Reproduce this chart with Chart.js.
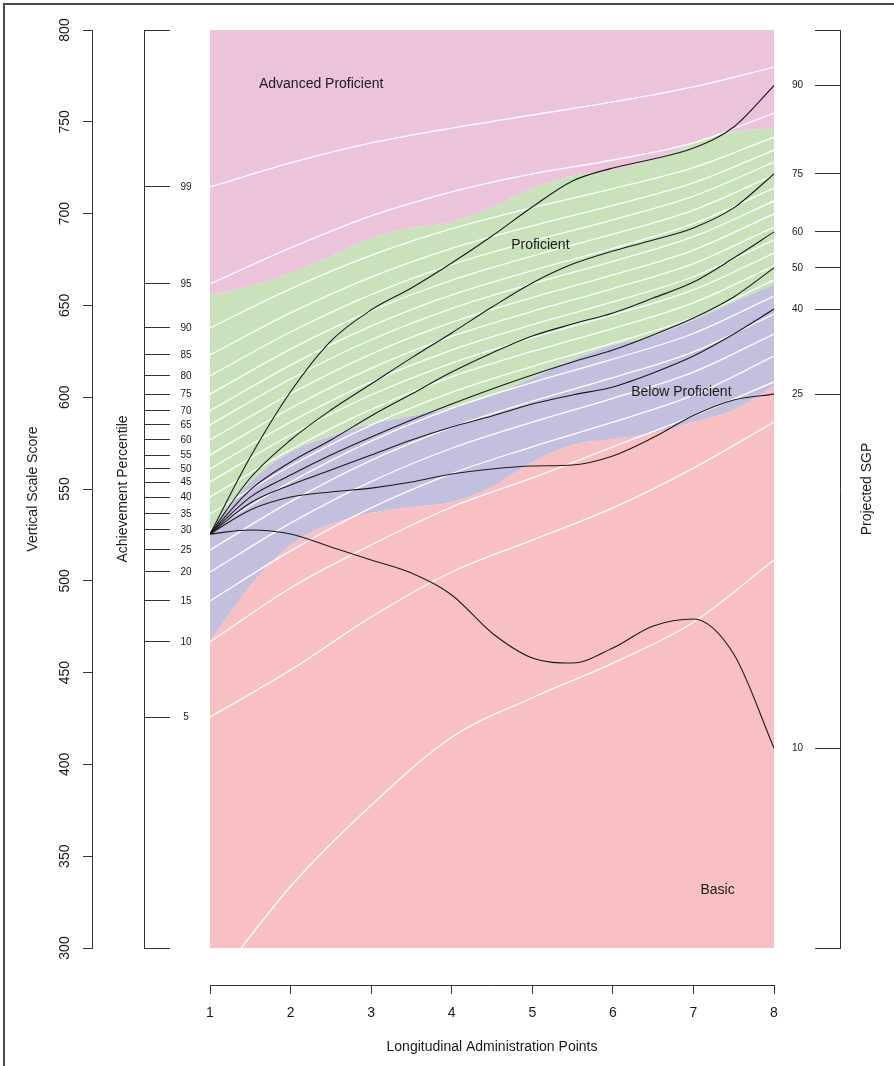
<!DOCTYPE html>
<html>
<head>
<meta charset="utf-8">
<script src="https://cdn.jsdelivr.net/npm/chart.js@4.4.1/dist/chart.umd.min.js"></script>
<style>
  html, body { margin: 0; padding: 0; background: #fff; overflow: hidden; }
  #wrap { position: relative; width: 894px; height: 1066px; overflow: hidden; }
  #frame { position: absolute; left: 3px; top: 3px; width: 1000px; height: 1200px;
           border: 2px solid #4a4a4a; box-sizing: border-box; }
  canvas { position: absolute; left: 0; top: 0; }
</style>
</head>
<body>
<div id="wrap">
  <div id="frame"></div>
  <canvas id="chart" width="894" height="1066"></canvas>
</div>
<script>
// Administration points used by the cut-score bands and the projected growth paths
const steps = [1, 1.5, 2, 2.5, 3, 3.5, 4, 4.5, 5, 5.5, 6, 6.5, 7, 7.5, 8];
// Administration points used by the achievement percentile curves
const years = [1, 2, 3, 4, 5, 6, 7, 8];

// Performance level cut scores (lower edge of each level)
const cutAdvanced   = [655.7, 660.6, 667.6, 676.9, 686.7, 692.2, 695.4, 703.6, 713.9, 720.5, 723.7, 729.7, 737.9, 744.4, 746.6];
const cutProficient = [527.7, 553.8, 570.2, 578.9, 585.4, 589.8, 594.1, 601.2, 610.5, 620.3, 628.4, 633.3, 642.0, 651.9, 661.7];
const cutBelow      = [467.2, 497.2, 519.5, 530.9, 536.9, 540.2, 542.9, 551.1, 564.7, 574.0, 577.2, 580.5, 586.5, 593.0, 606.1];

// Projected scale-score trajectories for each student growth percentile
const sgp90 = [525.5, 567.4, 603.0, 630.6, 647.5, 659.5, 673.1, 687.8, 703.6, 717.8, 724.8, 729.7, 735.7, 747.2, 769.7];
const sgp75 = [525.5, 556.0, 576.7, 593.0, 607.2, 621.4, 635.0, 649.1, 662.2, 672.5, 679.6, 685.6, 692.2, 703.1, 721.6];
const sgp60 = [525.5, 549.5, 564.7, 576.7, 589.8, 601.7, 613.7, 624.1, 633.3, 639.9, 645.9, 654.0, 662.7, 675.8, 690.0];
const sgp50 = [525.5, 545.6, 557.6, 568.5, 578.3, 587.6, 596.3, 604.5, 612.1, 619.2, 625.7, 633.9, 643.1, 654.6, 670.4];
const sgp40 = [525.5, 542.4, 552.2, 560.3, 568.5, 576.7, 583.8, 589.8, 596.3, 601.2, 605.6, 613.2, 622.4, 634.4, 648.0];
const sgp25 = [525.5, 538.6, 545.6, 548.4, 550.5, 553.8, 558.2, 560.9, 562.5, 563.1, 568.0, 578.0, 590.0, 598.5, 601.7];
const sgp10 = [525.5, 527.7, 525.5, 518.4, 511.3, 504.2, 492.3, 471.6, 458.0, 455.2, 463.4, 475.4, 479.2, 460.1, 408.9];
const sgpLevels = [10, 25, 40, 50, 60, 75, 90];

// Achievement percentile curves (scale score reached by each percentile)
const pct99 = [714.5, 727.6, 738.5, 746.6, 753.7, 760.8, 769.0, 779.8];
const pct95 = [661.7, 681.3, 698.7, 711.8, 721.6, 729.2, 738.5, 754.8];
const pct90 = [637.7, 659.0, 677.2, 691.8, 703.2, 713.6, 725.1, 741.7];
const pct85 = [623.0, 645.9, 665.4, 681.0, 693.3, 704.5, 716.7, 734.6];
const pct80 = [611.6, 635.5, 655.9, 672.2, 685.0, 696.6, 709.5, 728.1];
const pct75 = [601.7, 626.2, 647.0, 663.7, 676.9, 688.8, 701.9, 721.0];
const pct70 = [592.6, 617.5, 638.7, 655.7, 669.0, 681.1, 694.5, 713.9];
const pct65 = [584.9, 609.9, 631.3, 648.3, 661.8, 674.0, 687.4, 706.9];
const pct60 = [576.7, 601.9, 623.5, 640.7, 654.3, 666.6, 680.1, 699.8];
const pct55 = [568.5, 594.0, 615.7, 633.1, 646.7, 659.2, 672.8, 692.7];
const pct50 = [560.9, 586.5, 608.3, 625.7, 639.5, 651.9, 665.6, 685.6];
const pct45 = [553.8, 579.4, 601.2, 618.6, 632.4, 644.8, 658.5, 678.5];
const pct40 = [545.6, 571.4, 593.4, 611.1, 624.9, 637.5, 651.4, 671.5];
const pct35 = [536.4, 562.5, 584.8, 602.6, 616.7, 629.4, 643.4, 663.8];
const pct30 = [527.7, 553.8, 576.1, 593.9, 608.0, 620.7, 634.7, 655.1];
const pct25 = [516.8, 543.1, 565.6, 583.6, 597.8, 610.6, 624.7, 645.3];
const pct20 = [504.8, 531.4, 554.0, 572.2, 586.4, 599.4, 613.7, 634.4];
const pct15 = [489.0, 516.3, 539.7, 558.4, 573.0, 586.4, 601.1, 622.4];
const pct10 = [466.7, 496.1, 519.5, 540.2, 556.0, 572.9, 589.8, 608.3];
const pct5  = [425.8, 451.4, 480.3, 504.8, 522.2, 539.7, 561.4, 586.5];
const pct1  = [278.0, 333.5, 377.7, 414.8, 436.3, 455.2, 477.4, 511.3];
const pctLevels = [1, 5, 10, 15, 20, 25, 30, 35, 40, 45, 50, 55, 60, 65, 70, 75, 80, 85, 90, 95, 99];

// Scale limits
const scoreMin = 300, scoreMax = 800;

// Region names placed inside the bands (x = administration point, y = scale score)
const regionLabels = [
  { text: 'Advanced Proficient', x: 2.38, y: 770.6 },
  { text: 'Proficient',          x: 5.10, y: 682.9 },
  { text: 'Below Proficient',    x: 6.85, y: 602.8 },
  { text: 'Basic',               x: 7.30, y: 331.6 }
];

const FONT = '"Liberation Sans", Arial, Helvetica, sans-serif';
const INK = '#1a1a1a';
const AXIS = '#333333';
Chart.defaults.font.family = FONT;
Chart.defaults.color = INK;

const toPoints = (xs, ys) => xs.map((x, i) => ({ x, y: ys[i] }));

const sgpCurves = [sgp10, sgp25, sgp40, sgp50, sgp60, sgp75, sgp90];
const pctCurves = [pct1, pct5, pct10, pct15, pct20, pct25, pct30, pct35, pct40, pct45, pct50,
                   pct55, pct60, pct65, pct70, pct75, pct80, pct85, pct90, pct95, pct99];

const datasets = [];
// Projected growth paths (drawn on top)
sgpCurves.forEach((c, i) => datasets.push({
  label: 'SGP ' + sgpLevels[i],
  data: toPoints(steps, c),
  borderColor: INK, borderWidth: 1.1, pointRadius: 0, fill: false,
  cubicInterpolationMode: 'monotone'
}));
// Percentile curves
pctCurves.forEach((c, i) => datasets.push({
  label: 'P' + pctLevels[i],
  data: toPoints(years, c),
  borderColor: '#ffffff', borderWidth: 1.3, pointRadius: 0, fill: false,
  cubicInterpolationMode: 'monotone'
}));
// Performance level bands
const bandBase = datasets.length;
datasets.push({ label: 'Advanced Proficient', data: toPoints(steps, cutAdvanced), borderWidth: 0, pointRadius: 0,
  backgroundColor: '#EBC3DB', fill: 'end', cubicInterpolationMode: 'monotone' });
datasets.push({ label: 'Proficient', data: toPoints(steps, cutProficient), borderWidth: 0, pointRadius: 0,
  backgroundColor: '#C9E2BB', fill: bandBase, cubicInterpolationMode: 'monotone' });
datasets.push({ label: 'Below Proficient', data: toPoints(steps, cutBelow), borderWidth: 0, pointRadius: 0,
  backgroundColor: '#C3BFDE', fill: bandBase + 1, cubicInterpolationMode: 'monotone' });
datasets.push({ label: 'Basic', data: toPoints(steps, cutBelow), borderWidth: 0, pointRadius: 0,
  backgroundColor: '#F8C0C2', fill: 'start', cubicInterpolationMode: 'monotone' });

// Side-axis ticks come from the curve end points
const pctTickMap = new Map();
pctCurves.forEach((c, i) => { if (c[0] >= scoreMin) pctTickMap.set(c[0], String(pctLevels[i])); });
const sgpTickMap = new Map();
sgpCurves.forEach((c, i) => sgpTickMap.set(c[c.length - 1], String(sgpLevels[i])));

const customTicks = (map) => (scale) => {
  const vals = [scoreMin, ...map.keys(), scoreMax].sort((a, b) => a - b);
  scale.ticks = vals.map(v => ({ value: v }));
};

// Fixed box width/height for a side scale; the label offset should not push the plot area
const fixedSize = (size, horizontal) => (s) => {
  if (horizontal) s.height = size; else s.width = size;
  s.paddingTop = 0; s.paddingBottom = 0;
};

const spacer = (axis, position, size) => ({
  axis, position, weight: 1, display: true, min: 0, max: 1,
  ticks: { display: false }, grid: { display: false }, border: { display: false },
  afterFit: fixedSize(size, axis === 'x')
});

const regionLabelPlugin = {
  id: 'regionLabels',
  afterDatasetsDraw(chart) {
    const { ctx } = chart;
    const xs = chart.scales.x, ys = chart.scales.y;
    ctx.save();
    ctx.font = '14px ' + FONT;
    ctx.fillStyle = INK;
    ctx.textAlign = 'center';
    ctx.textBaseline = 'middle';
    regionLabels.forEach(l => ctx.fillText(l.text, xs.getPixelForValue(l.x), ys.getPixelForValue(l.y)));
    ctx.restore();
  },
  afterDraw(chart) {
    // right-hand axis title, reading upward like the left titles
    const s = chart.scales.sgp;
    const { ctx } = chart;
    ctx.save();
    ctx.font = '14px ' + FONT;
    ctx.fillStyle = INK;
    ctx.textAlign = 'center';
    ctx.textBaseline = 'middle';
    ctx.translate(s.right - 27, (s.top + s.bottom) / 2);
    ctx.rotate(-Math.PI / 2);
    ctx.fillText('Projected SGP', 0, 0);
    ctx.restore();
  }
};

new Chart(document.getElementById('chart'), {
  type: 'line',
  data: { datasets },
  plugins: [regionLabelPlugin],
  options: {
    responsive: false,
    animation: false,
    devicePixelRatio: 1,
    layout: { padding: { top: 30, left: 0, right: 0, bottom: 0 } },
    plugins: { legend: { display: false }, tooltip: { enabled: false },
               filler: { propagate: false } },
    elements: { line: { borderCapStyle: 'round' } },
    scales: {
      x: {
        type: 'linear', axis: 'x', position: 'bottom', weight: 2, min: 1, max: 8,
        ticks: { stepSize: 1, padding: 11, font: { size: 14 }, color: INK },
        grid: { display: true, drawOnChartArea: false, tickLength: 9, color: AXIS, tickWidth: 1 },
        border: { display: true, color: AXIS, width: 1 },
        title: { display: true, text: 'Longitudinal Administration Points', font: { size: 14 }, color: INK,
                 padding: { top: 0, bottom: 10 } },
        afterFit: (s) => { s.height = 81; }
      },
      xpad: spacer('x', 'bottom', 37),
      y: {
        type: 'linear', axis: 'y', position: 'left', weight: 3, min: scoreMin, max: scoreMax,
        ticks: { stepSize: 50, minRotation: 90, maxRotation: 90, crossAlign: 'center', padding: 6,
                 font: { size: 14 }, color: INK, autoSkip: false },
        grid: { display: true, drawOnChartArea: false, tickLength: 9, color: AXIS },
        border: { display: true, color: AXIS, width: 1 },
        title: { display: true, text: 'Vertical Scale Score', font: { size: 14 }, color: INK,
                 padding: { top: 24.6, bottom: 0 } },
        afterFit: fixedSize(92, false)
      },
      pct: {
        type: 'linear', axis: 'y', position: 'left', weight: 2, min: scoreMin, max: scoreMax,
        afterBuildTicks: customTicks(pctTickMap),
        ticks: { mirror: true, crossAlign: 'center', padding: 36.4, autoSkip: false,
                 font: { size: 10 }, color: INK,
                 callback: (v) => pctTickMap.get(v) || '' },
        grid: { display: true, drawOnChartArea: false, tickLength: -26, color: AXIS },
        border: { display: true, color: AXIS, width: 1 },
        title: { display: true, text: 'Achievement Percentile', font: { size: 14 }, color: INK,
                 padding: { top: 22.6, bottom: 0 } },
        afterFit: fixedSize(52, false)
      },
      ypad: spacer('y', 'left', 66),
      sgp: {
        type: 'linear', axis: 'y', position: 'right', weight: 2, min: scoreMin, max: scoreMax,
        afterBuildTicks: customTicks(sgpTickMap),
        ticks: { mirror: true, crossAlign: 'center', padding: -37, autoSkip: false,
                 font: { size: 10 }, color: INK,
                 callback: (v) => sgpTickMap.get(v) || '' },
        grid: { display: true, drawOnChartArea: false, tickLength: -25, color: AXIS },
        border: { display: true, color: AXIS, width: 1 },
        afterFit: fixedSize(54, false)
      },
      rpad: spacer('y', 'right', 66)
    }
  }
});
</script>
</body>
</html>
